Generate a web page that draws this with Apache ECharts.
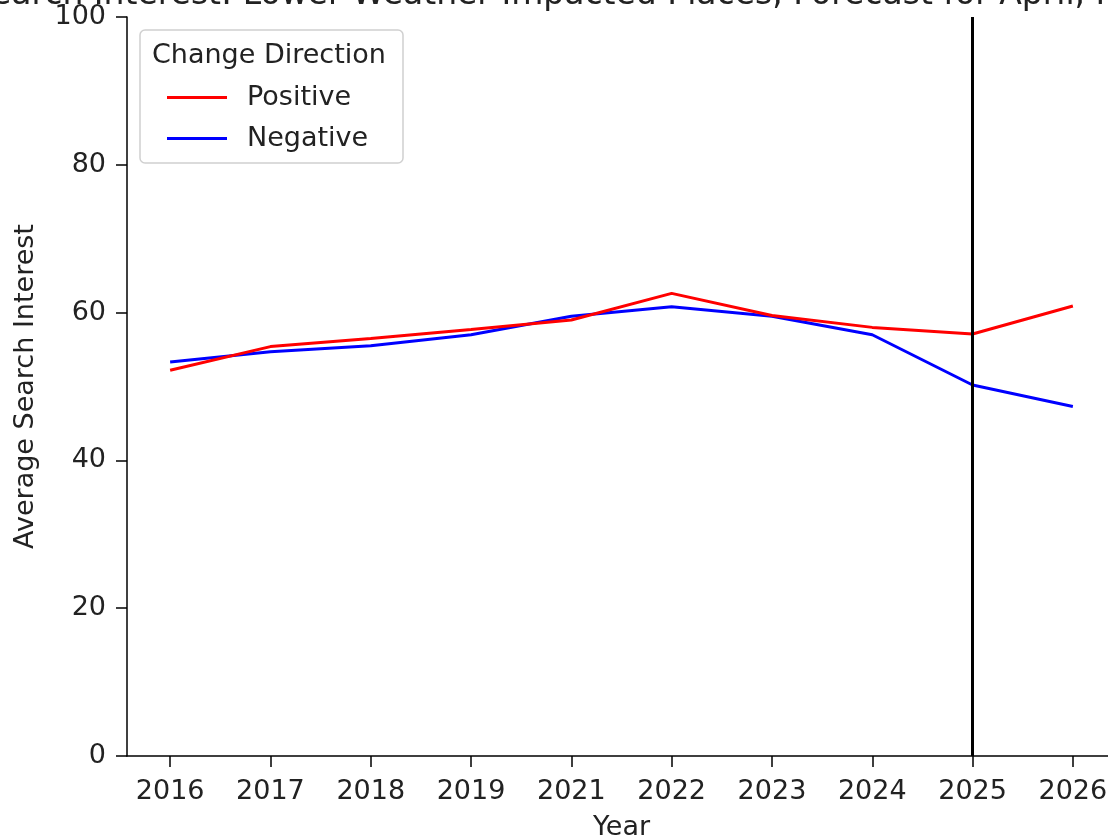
<!DOCTYPE html>
<html>
<head>
<meta charset="utf-8">
<script src="https://cdn.jsdelivr.net/npm/echarts@6/dist/echarts.min.js"></script>
<style>html,body{margin:0;padding:0;background:#fff}#c{width:1108px;height:839px}</style>
</head>
<body>
<div id="c"></div>
<script>
var years = ['2016','2017','2018','2019','2021','2022','2023','2024','2025','2026'];
var positive = [52.2, 55.4, 56.5, 57.7, 59.0, 62.6, 59.6, 58.0, 57.1, 60.9];
var negative = [53.3, 54.7, 55.5, 57.0, 59.5, 60.8, 59.5, 57.0, 50.2, 47.3];
var yTicks = [0, 20, 40, 60, 80, 100];
var markerYearIndex = 8;
var titleText = 'Search Interest: Lower Weather Impacted Places, Forecast for April, May, June';

var FONT = 'DejaVu Sans';
var idx = years.map(function(_, i){ return i; });
function pairs(arr){ return arr.map(function(v, i){ return [i, v]; }); }

var chart = echarts.init(document.getElementById('c'), null, {renderer:'canvas'});
chart.setOption({
  animation: false,
  backgroundColor: '#fff',
  textStyle: {fontFamily: FONT},
  grid: {left: 127, right: -8, top: 17, bottom: 83, containLabel: false, outerBoundsMode: 'none'},
  graphic: [
    {type:'text', left: -30, top: -21, style:{text: titleText, font: '33px "DejaVu Sans"', fill:'#222'}, z: 10},
    {type:'rect', shape:{x:140, y:30, width:263, height:133, r:5}, style:{fill:'rgba(255,255,255,0.8)', stroke:'#d0d0d0', lineWidth:1.5}, z: 20},
    {type:'text', left: 152, top: 42, style:{text:'Change Direction', font:'27px "DejaVu Sans"', fill:'#222'}, z: 21}
  ],
  legend: {
    orient: 'vertical', left: 141, top: 84, z: 22,
    padding: [0, 0, 0, 26],
    itemWidth: 60, itemHeight: 3, itemGap: 14, itemTextGap: 20,
    icon: 'rect',
    textStyle: {fontFamily: FONT, fontSize: 27, color: '#222', lineHeight: 27, padding: [0,0,0,15]},
    data: ['Positive', 'Negative']
  },
  xAxis: {
    type: 'value', min: -0.43, max: 9.43,
    name: 'Year', nameLocation: 'middle', nameGap: 58,
    nameTextStyle: {fontFamily: FONT, fontSize: 27, color: '#222'},
    axisLine: {show: true, onZero: false, lineStyle: {color: '#000', width: 1.5}},
    axisTick: {show: true, length: 11, lineStyle:{color:'#000', width:1.5}, customValues: idx},
    axisLabel: {customValues: idx, fontFamily: FONT, fontSize: 27, color: '#222', margin: 22,
      formatter: function(v){ return years[Math.round(v)]; }},
    splitLine: {show: false}
  },
  yAxis: {
    type: 'value', min: 0, max: 100, interval: 20,
    name: 'Average Search Interest', nameLocation: 'middle', nameGap: 88,
    nameTextStyle: {fontFamily: FONT, fontSize: 27, color: '#222'},
    axisLine: {show: true, onZero: false, lineStyle: {color: '#000', width: 1.5}},
    axisTick: {show: true, length: 11, lineStyle:{color:'#000', width:1.5}},
    axisLabel: {fontFamily: FONT, fontSize: 27, color: '#222', margin: 21,
      formatter: function(v){ return yTicks.indexOf(v) >= 0 ? String(v) : ''; }},
    splitLine: {show: false}
  },
  series: [
    {name: 'Positive', type: 'line', data: pairs(positive), showSymbol: false, symbol: 'none',
      lineStyle: {color: '#ff0000', width: 3}, itemStyle: {color: '#ff0000'},
      markLine: {silent: true, symbol: ['none','none'], label:{show:false},
        lineStyle: {color:'#000', width: 3, type:'solid'},
        data: [{xAxis: markerYearIndex}]}, z: 3},
    {name: 'Negative', type: 'line', data: pairs(negative), showSymbol: false, symbol: 'none',
      lineStyle: {color: '#0000ff', width: 3}, itemStyle: {color: '#0000ff'}, z: 2}
  ]
});
</script>
</body>
</html>
